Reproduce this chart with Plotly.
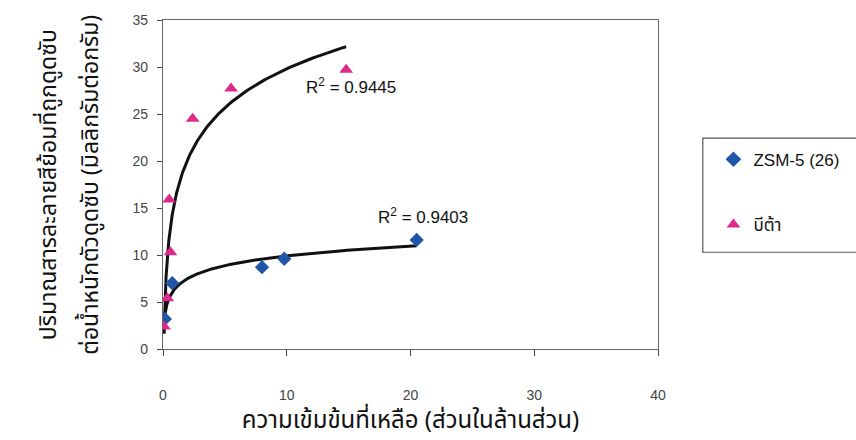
import numpy as np
import plotly.graph_objects as go

# Adsorption data: residual concentration (ppm) vs. dye adsorbed (mg/g)
zsm_x = [0.15, 0.75, 8.0, 9.8, 20.5]
zsm_y = [3.2, 7.0, 8.7, 9.6, 11.6]
beta_x = [0.09, 0.35, 0.6, 0.5, 2.4, 5.5, 14.8]
beta_y = [2.4, 5.4, 10.3, 15.9, 24.5, 27.7, 29.7]

zsm_name = "ZSM-5 (26)"
beta_name = "บีต้า"
zsm_r2 = "0.9403"
beta_r2 = "0.9445"

x_title = "ความเข้มข้นที่เหลือ (ส่วนในล้านส่วน)"
y_title_1 = "ปริมาณสารละลายสีย้อมที่ถูกดูดซับ"
y_title_2 = "ต่อน้ำหนักตัวดูดซับ (มิลลิกรัมต่อกรัม)"

x_ticks = [0, 10, 20, 30, 40]
y_ticks = [0, 5, 10, 15, 20, 25, 30, 35]

THAI_FONT = "'Noto Sans Thai', 'Noto Sans', Loma, Garuda, sans-serif"
NUM_FONT = "Arial, 'Liberation Sans', sans-serif"
MIXED_FONT = "Arial, 'Liberation Sans', 'Noto Sans Thai', sans-serif"


def log_trend(xs, ys, n=200):
    """Least-squares fit y = a*ln(x) + b, sampled between min and max x."""
    lx = np.log(np.asarray(xs, float))
    a, b = np.polyfit(lx, np.asarray(ys, float), 1)
    gx = np.geomspace(min(xs), max(xs), n)
    return gx, a * np.log(gx) + b


fig = go.Figure()

for xs, ys in ((beta_x, beta_y), (zsm_x, zsm_y)):
    tx, ty = log_trend(xs, ys)
    fig.add_trace(go.Scatter(x=tx, y=ty, mode="lines", showlegend=False,
                             line=dict(color="#111111", width=3), hoverinfo="skip"))

fig.add_trace(go.Scatter(x=zsm_x, y=zsm_y, mode="markers", name=zsm_name,
                         legendgroup="a",
                         marker=dict(symbol="diamond", size=11, color="#1f56a6")))
fig.add_trace(go.Scatter(x=beta_x, y=beta_y, mode="markers", name=beta_name,
                         legendgroup="b",
                         marker=dict(symbol="triangle-up", size=12, color="#e0288c")))

fig.add_annotation(x=11.4, y=28.0, xref="x", yref="y", xanchor="left", showarrow=False,
                   text=f"R<sup>2</sup> = {beta_r2}",
                   font=dict(family=NUM_FONT, size=17, color="#111"))
fig.add_annotation(x=17.2, y=14.1, xref="x", yref="y", xanchor="left", showarrow=False,
                   text=f"R<sup>2</sup> = {zsm_r2}",
                   font=dict(family=NUM_FONT, size=17, color="#111"))

# Two-line y-axis title
fig.add_annotation(x=-0.231, y=0.5, xref="paper", yref="paper", textangle=-90,
                   xanchor="center", yanchor="middle",
                   showarrow=False, text=y_title_1,
                   font=dict(family=THAI_FONT, size=23, color="#111"))
fig.add_annotation(x=-0.147, y=0.5, xref="paper", yref="paper", textangle=-90,
                   xanchor="center", yanchor="middle",
                   showarrow=False, text=y_title_2,
                   font=dict(family=THAI_FONT, size=23, color="#111"))

# Legend frame (runs off the right edge)
fig.add_shape(type="rect", xref="paper", yref="paper",
              x0=1.0905, x1=1.45, y0=0.294, y1=0.641,
              line=dict(color="#555", width=1.2), fillcolor="rgba(0,0,0,0)")

axis_common = dict(showgrid=False, zeroline=False, showline=True, linecolor="#666",
                   linewidth=1.2, mirror=True, ticks="outside", tickcolor="#444",
                   tickfont=dict(family=NUM_FONT, size=14, color="#444"))

fig.update_xaxes(range=[0, 40], tickvals=x_ticks, ticklen=6, ticklabelstandoff=27,
                 title=dict(text=x_title, standoff=4,
                            font=dict(family=THAI_FONT, size=24, color="#111")),
                 **axis_common)
fig.update_yaxes(range=[0, 35], tickvals=y_ticks, ticklen=5, ticklabelstandoff=6,
                 **axis_common)

fig.update_layout(
    width=856, height=440,
    margin=dict(l=163, r=196, t=12, b=91),
    paper_bgcolor="white", plot_bgcolor="white",
    legend=dict(x=1.112, y=0.63, xanchor="left", yanchor="top",
                borderwidth=0, tracegroupgap=40, bgcolor="rgba(0,0,0,0)",
                font=dict(family=MIXED_FONT, size=17, color="#111"),
                itemsizing="constant"),
)

fig.write_html("out.html")
